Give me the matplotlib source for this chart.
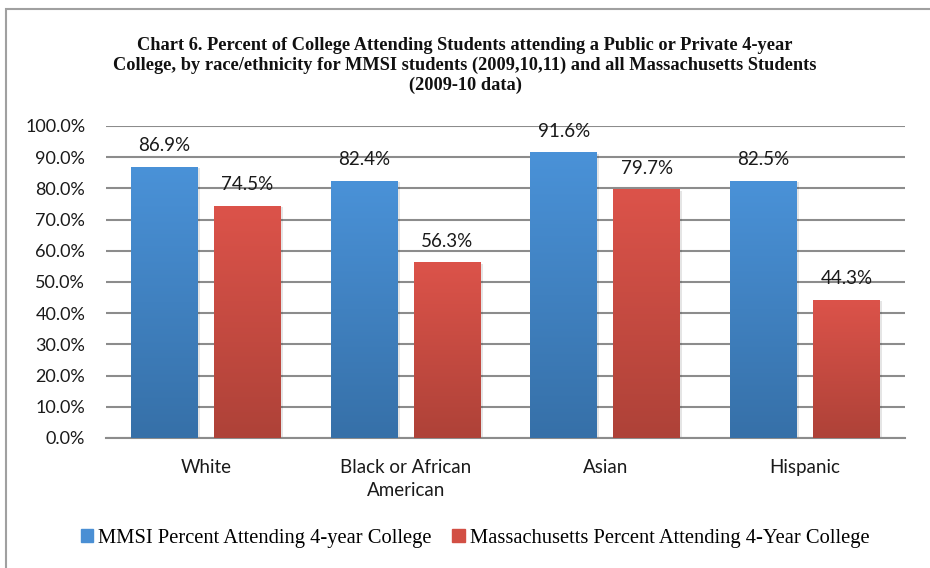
import numpy as np
import matplotlib.pyplot as plt
from matplotlib.colors import LinearSegmentedColormap
from matplotlib.patches import Rectangle

categories = ['White', 'Black or African\nAmerican', 'Asian', 'Hispanic']
mmsi = [86.9, 82.4, 91.6, 82.5]
mass = [74.5, 56.3, 79.7, 44.3]
series_names = ['MMSI Percent Attending 4-year College',
                'Massachusetts Percent Attending 4-Year College']
title = ('Chart 6. Percent of College Attending Students attending a Public or Private 4-year\n'
         'College, by race/ethnicity for MMSI students (2009,10,11) and all Massachusetts Students\n'
         '(2009-10 data)')

sans = 'Lato'
serif = 'Liberation Serif'

blue_grad = LinearSegmentedColormap.from_list('b', ['#3670a8', '#4a92d8'])
red_grad = LinearSegmentedColormap.from_list('r', ['#ae4238', '#dc534a'])

fig = plt.figure(figsize=(9.3, 5.68), dpi=100)
ax = fig.add_axes([106/930, 1-438/568, (905-106)/930, (438-126)/568])

# outer chart frame
fig.patches.append(Rectangle((6/930, -0.1), 1.0, 1-9/568+0.1, transform=fig.transFigure,
                             fill=False, edgecolor='#a0a0a0', lw=1.5))

x = np.arange(len(categories))
w = 0.335
off = 0.2075

for vals, cm, sgn in [(mmsi, blue_grad, -1), (mass, red_grad, 1)]:
    bars = ax.bar(x + sgn*off, vals, w, color='none', zorder=3)
    for b, v in zip(bars, vals):
        x0 = b.get_x()
        # soft shadow
        ax.add_patch(Rectangle((x0 + 0.01, 0), w, v - 0.5, color='#000000', alpha=0.1, lw=0, zorder=2))
        grad = np.linspace(0, 1, 256).reshape(-1, 1)
        im = ax.imshow(grad, cmap=cm, origin='lower', aspect='auto',
                       extent=[x0, x0 + w, 0, v], zorder=3)
        im.set_clip_path(b)
        ax.text(b.get_x() + w/2, v + 4.0, f'{v:.1f}%', ha='center', va='bottom',
                fontsize=13.5, family=sans, color='#1a1a1a', zorder=4)

ax.set_xlim(-0.5, 3.5)
ax.set_ylim(0, 100)
ax.set_yticks(np.arange(0, 101, 10))
ax.set_yticklabels([f'{t:.1f}%' for t in np.arange(0, 101, 10)], family=sans, fontsize=13)
ax.set_xticks(x)
ax.set_xticklabels(categories, family=sans, fontsize=13.5, linespacing=1.45)
ax.tick_params(axis='y', length=0, pad=15, colors='#1a1a1a')
ax.tick_params(axis='x', length=0, pad=15, colors='#1a1a1a')
ax.yaxis.grid(True, color='#8c8c8c', lw=1.5, zorder=0)
ax.set_axisbelow(True)
for s in ['top', 'right', 'left']:
    ax.spines[s].set_visible(False)
ax.spines['bottom'].set_color('#8c8c8c')
ax.spines['bottom'].set_linewidth(1.5)

fig.text(0.5, 1-37/568, title, ha='center', va='top', family=serif, fontweight='bold',
         fontsize=13.2, linespacing=1.22, color='#111111')

handles = [Rectangle((0, 0), 1, 1, color='#4a8fd4'), Rectangle((0, 0), 1, 1, color='#d24f44')]
fig.legend(handles, series_names, loc='center', bbox_to_anchor=(0.5 + 10/930, 1-538/568), ncol=2,
           frameon=False, prop={'family': serif, 'size': 14.8}, handlelength=0.6, handleheight=0.6,
           handletextpad=0.25, columnspacing=1.0)

fig.savefig('out.png', dpi=100)
